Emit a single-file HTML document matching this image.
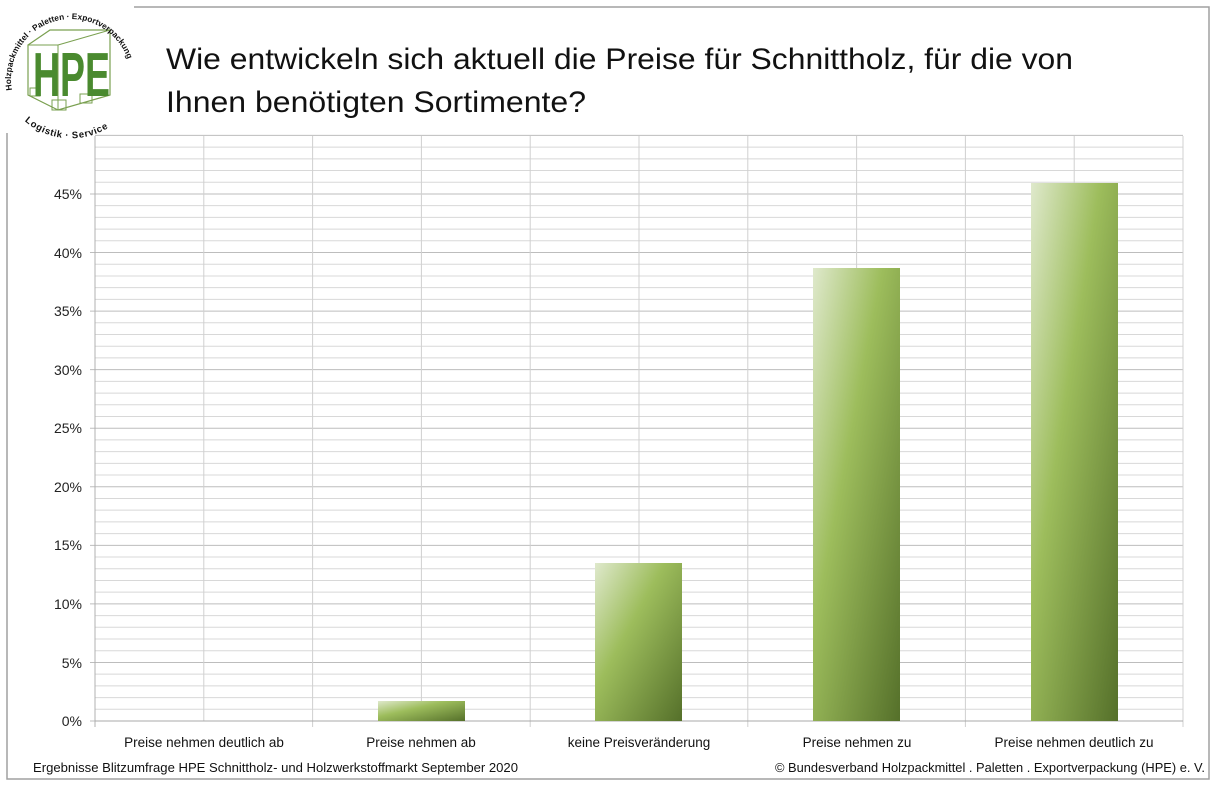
<!DOCTYPE html>
<html><head><meta charset="utf-8"><style>
html,body{margin:0;padding:0;background:#fff;}
svg{display:block;font-family:"Liberation Sans",sans-serif;}
</style></head><body>
<svg width="1220" height="786" viewBox="0 0 1220 786" xmlns="http://www.w3.org/2000/svg">
<defs>
<linearGradient id="g" x1="0" y1="0" x2="1" y2="1" gradientUnits="objectBoundingBox">
<stop offset="0" stop-color="#dfe9cc"/><stop offset="0.4" stop-color="#9dbd5c"/><stop offset="1" stop-color="#55702a"/>
</linearGradient>
<path id="arc" d="M12,90 A60,60 0 1 1 130,90" fill="none"/>
<path id="arc2" d="M28,112 A62,62 0 0 0 114,112" fill="none"/>
</defs>
<!-- frame -->
<polyline points="134,7 1209,7 1209,779 7,779 7,133" fill="none" stroke="#a0a0a0" stroke-width="1.5"/>
<!-- logo -->
<g>
<path d="M28,45 L50,30 L110,30 L110,95 L58,110 L28,95 Z" fill="none" stroke="#7aa050" stroke-width="1.2"/>
<path d="M28,45 L58,45 L58,110 M58,45 L110,30" fill="none" stroke="#7aa050" stroke-width="1"/>
<rect x="52" y="100" width="14" height="10" fill="none" stroke="#7aa050"/>
<rect x="80" y="94" width="12" height="9" fill="none" stroke="#7aa050"/>
<rect x="30" y="88" width="10" height="8" fill="none" stroke="#7aa050"/>
<text x="33" y="96" font-size="62" font-weight="bold" fill="#4a8a2f" textLength="77" lengthAdjust="spacingAndGlyphs">HPE</text>
<text font-size="8.3" font-weight="bold" fill="#111"><textPath href="#arc">Holzpackmittel · Paletten · Exportverpackung</textPath></text>
<text font-size="9.5" font-weight="bold" fill="#111" dy="9"><textPath href="#arc2" startOffset="3">Logistik · Service</textPath></text>
</g>
<!-- title -->
<text x="166" y="69" font-size="30" fill="#111" textLength="907" lengthAdjust="spacingAndGlyphs">Wie entwickeln sich aktuell die Preise für Schnittholz, für die von</text>
<text x="166" y="112" font-size="30" fill="#111" textLength="420" lengthAdjust="spacingAndGlyphs">Ihnen benötigten Sortimente?</text>
<!-- grid -->
<g id="grid"></g>
<script>
(function(){var ns='http://www.w3.org/2000/svg';var g=document.getElementById('grid');
for(var i=0;i<=50;i++){var y=721-i*11.712;var c=(i%5==0)?'#bdbdbd':'#d8d8d8';
var l=document.createElementNS(ns,'line');l.setAttribute('x1',(i%5==0&&i<50)?90:95);l.setAttribute('x2',1183);l.setAttribute('y1',y);l.setAttribute('y2',y);l.setAttribute('stroke',c);g.appendChild(l);}
for(var j=0;j<=10;j++){var x=95+j*108.8;var l=document.createElementNS(ns,'line');l.setAttribute('x1',x);l.setAttribute('x2',x);l.setAttribute('y1',136);l.setAttribute('y2',j%2==0?727:721);l.setAttribute('stroke',j==0?'#b0b0b0':'#d0d0d0');g.appendChild(l);}
})();
</script>
<line x1="95" y1="721" x2="1183" y2="721" stroke="#a8a8a8"/>
<!-- y labels -->
<g font-size="14" fill="#222" text-anchor="end">
<text x="82" y="726">0%</text><text x="82" y="668">5%</text><text x="82" y="609">10%</text>
<text x="82" y="550">15%</text><text x="82" y="492">20%</text><text x="82" y="433">25%</text>
<text x="82" y="375">30%</text><text x="82" y="316">35%</text><text x="82" y="258">40%</text>
<text x="82" y="199">45%</text>
</g>
<!-- bars -->
<rect x="378" y="701" width="87" height="20" fill="url(#g)"/>
<rect x="595" y="563" width="87" height="158" fill="url(#g)"/>
<rect x="813" y="268" width="87" height="453" fill="url(#g)"/>
<rect x="1031" y="183" width="87" height="538" fill="url(#g)"/>
<!-- categories -->
<g font-size="13.5" fill="#111" text-anchor="middle">
<text x="204" y="747">Preise nehmen deutlich ab</text>
<text x="421" y="747">Preise nehmen ab</text>
<text x="639" y="747">keine Preisveränderung</text>
<text x="857" y="747">Preise nehmen zu</text>
<text x="1074" y="747">Preise nehmen deutlich zu</text>
</g>
<text x="33" y="772" font-size="13" fill="#111" textLength="485" lengthAdjust="spacingAndGlyphs">Ergebnisse Blitzumfrage HPE Schnittholz- und Holzwerkstoffmarkt September 2020</text>
<text x="1205" y="772" font-size="13" fill="#111" text-anchor="end" textLength="430" lengthAdjust="spacingAndGlyphs">© Bundesverband Holzpackmittel . Paletten . Exportverpackung (HPE) e. V.</text>
</svg>
</body></html>
